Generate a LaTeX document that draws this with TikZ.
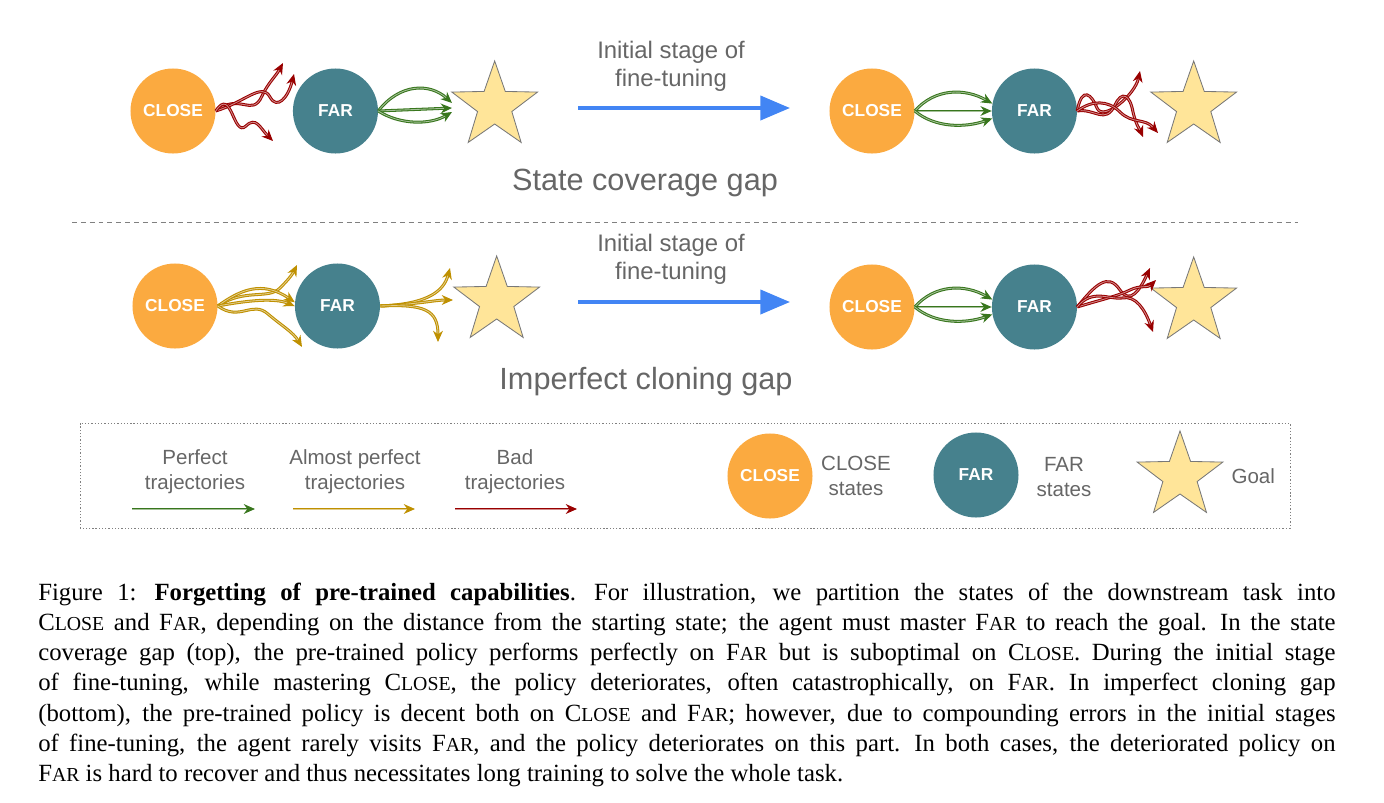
\documentclass[tikz,border=0pt]{standalone}
\usepackage{fontspec}
\setmainfont{Liberation Serif}
\setsansfont{Liberation Sans}
\newfontfamily\capsmall[Scale=0.8]{Liberation Serif}
\usetikzlibrary{arrows.meta,shapes.geometric,positioning}
\definecolor{closeorange}{RGB}{251,170,64}
\definecolor{farteal}{RGB}{70,129,141}
\definecolor{goalfill}{RGB}{255,229,153}
\definecolor{goaldraw}{RGB}{120,120,120}
\definecolor{labelgray}{RGB}{102,102,102}
\definecolor{stageblue}{RGB}{66,133,244}
\definecolor{goodgreen}{RGB}{56,118,29}
\definecolor{okgold}{RGB}{191,144,0}
\definecolor{badred}{RGB}{153,0,0}
\tikzstyle{closestate} = [circle, fill=closeorange, minimum size=2.125cm, inner sep=0pt, text=white, font=\sffamily\bfseries\fontsize{12.3}{14}\selectfont]
\tikzstyle{farstate} = [closestate, fill=farteal]
\tikzstyle{goal} = [star, star points=5, star point ratio=2.5, fill=goalfill, draw=goaldraw, line width=0.6pt, minimum size=2.25cm, inner sep=0pt]
\tikzstyle{perfect} = [draw=goodgreen, double=goodgreen!45!white, double distance=0.6pt, line width=0.75pt, -{Stealth[length=8pt,width=7pt]}]
\tikzstyle{almost} = [perfect, draw=okgold, double=okgold!45!white]
\tikzstyle{bad} = [perfect, draw=badred, double=badred!45!white]
\tikzstyle{stage} = [draw=stageblue, line width=2.8pt, -{Triangle[length=21pt,width=17pt]}]
\tikzstyle{stagetext} = [text=labelgray, font=\sffamily\fontsize{17}{20}\selectfont, align=center]
\tikzstyle{legendtext} = [text=labelgray, font=\sffamily\fontsize{14.6}{17.8}\selectfont, align=center]
\tikzstyle{gaptitle} = [text=labelgray, font=\sffamily\fontsize{21.8}{26}\selectfont]
\tikzstyle{captiontext} = [anchor=north west, inner sep=0pt, text width=32.425cm, align=justify, font=\fontsize{17.6}{21.4}\selectfont]
\newcommand{\closesc}{C{\capsmall LOSE}}
\newcommand{\farsc}{F{\capsmall AR}}

\begin{document}
\begin{tikzpicture}[x=0.025cm, y=-0.025cm, node distance=4.06cm, >=latex]
\useasboundingbox (0,0) rectangle (1384,803);

\node [closestate] (close1) at (173,111) {CLOSE};
\node [farstate, right of=close1] (far1) {FAR};
\node [goal, right of=far1, node distance=3.98cm, yshift=0.125cm] (goal1) {};

\coordinate (miss1a) at (283,63);
\coordinate (miss1b) at (294,74);
\coordinate (miss1c) at (273,141);
\draw [bad] (close1.east) .. controls (240,92) and (252,118) .. (262,96) .. controls (268,83) and (276,76) .. (miss1a);
\draw [bad] (close1.east) .. controls (245,102) and (262,82) .. (270,97) .. controls (277,110) and (288,98) .. (miss1b);
\draw [bad] (close1.east) .. controls (232,86) and (233,138) .. (246,126) .. controls (256,116) and (260,128) .. (miss1c);

\coordinate (hit1a) at (452,103);
\coordinate (hit1b) at (452,108);
\coordinate (hit1c) at (452,112);
\draw [perfect] (far1.east) .. controls (400,83) and (430,83) .. (hit1a);
\draw [perfect] (far1.east) -- (hit1b);
\draw [perfect] (far1.east) .. controls (400,125) and (430,125) .. (hit1c);

\coordinate (stage1a) at (578,108);
\coordinate (stage1b) at (790,108);
\draw [stage] (stage1a) -- (stage1b);
\node [stagetext] (stage1label) at (671,66) {Initial stage of\\fine-tuning};

\node [closestate] (close2) at (872,111) {CLOSE};
\node [farstate, right of=close2] (far2) {FAR};
\node [goal, right of=far2, node distance=3.98cm, yshift=0.125cm] (goal2) {};

\draw [perfect] (close2.east) .. controls (935,88) and (965,88) .. (far2.170);
\draw [perfect] (close2.east) -- (far2.west);
\draw [perfect] (close2.east) .. controls (935,128) and (965,128) .. (far2.190);

\coordinate (miss2a) at (1140,71);
\coordinate (miss2b) at (1143,137);
\coordinate (miss2c) at (1158,133);
\draw [bad] (far2.east) .. controls (1082,85) and (1092,95) .. (1097,108) .. controls (1103,122) and (1135,95) .. (miss2a);
\draw [bad] (far2.east) .. controls (1095,108) and (1105,125) .. (1115,105) .. controls (1122,90) and (1130,95) .. (1133,112) .. controls (1136,125) and (1140,130) .. (miss2b);
\draw [bad] (far2.east) .. controls (1092,100) and (1108,100) .. (1120,112) .. controls (1132,124) and (1145,118) .. (miss2c);

\node [gaptitle] (title1) at (645,183) {State coverage gap};

\coordinate (sepleft) at (72,222.5);
\coordinate (sepright) at (1298,222.5);
\draw [gray, line width=0.8pt, dash pattern=on 3.5pt off 2.8pt] (sepleft) -- (sepright);

\node [closestate] (close3) at (175,306) {CLOSE};
\node [farstate, right of=close3] (far3) {FAR};
\node [goal, right of=far3, node distance=3.98cm, yshift=0.125cm] (goal3) {};

\coordinate (drift3a) at (297,265);
\coordinate (drift3c) at (302,347);
\draw [almost] (close3.east) .. controls (245,288) and (268,300) .. (280,288) .. controls (288,280) and (292,275) .. (drift3a);
\draw [almost] (close3.east) .. controls (240,290) and (262,280) .. (far3.175);
\draw [almost] (close3.east) .. controls (250,300) and (275,298) .. (far3.west);
\draw [almost] (close3.east) .. controls (240,322) and (252,300) .. (268,314) .. controls (282,326) and (293,332) .. (drift3c);

\coordinate (slip3a) at (450,268);
\coordinate (slip3b) at (453,300);
\coordinate (slip3c) at (438,342);
\draw [almost] (far3.east) .. controls (430,304) and (444,290) .. (slip3a);
\draw [almost] (far3.east) .. controls (420,304) and (435,300) .. (slip3b);
\draw [almost] (far3.east) .. controls (425,304) and (438,310) .. (slip3c);

\coordinate (stage2a) at (578,302);
\coordinate (stage2b) at (790,302);
\draw [stage] (stage2a) -- (stage2b);
\node [stagetext] (stage2label) at (671,259) {Initial stage of\\fine-tuning};

\node [closestate] (close4) at (872,307) {CLOSE};
\node [farstate, right of=close4] (far4) {FAR};
\node [goal, right of=far4, node distance=3.98cm, yshift=0.125cm] (goal4) {};

\draw [perfect] (close4.east) .. controls (935,284) and (965,284) .. (far4.170);
\draw [perfect] (close4.east) -- (far4.west);
\draw [perfect] (close4.east) .. controls (935,324) and (965,324) .. (far4.190);

\coordinate (miss4a) at (1150,268);
\coordinate (miss4b) at (1156,280);
\coordinate (miss4c) at (1153,332);
\draw [bad] (far4.east) .. controls (1095,285) and (1108,272) .. (1120,290) .. controls (1130,305) and (1140,290) .. (miss4a);
\draw [bad] (far4.east) .. controls (1100,300) and (1118,296) .. (1130,290) .. controls (1140,285) and (1148,288) .. (miss4b);
\draw [bad] (far4.east) .. controls (1092,288) and (1110,300) .. (1122,298) .. controls (1136,295) and (1145,310) .. (miss4c);

\node [gaptitle] (title2) at (646,382) {Imperfect cloning gap};

\coordinate (keyupper) at (1290,423);
\coordinate (keylower) at (80,528);
\draw [gray, line width=0.7pt, dash pattern=on 0.9pt off 1.4pt] (keylower) rectangle (keyupper);

\node [legendtext] (perfectlabel) at (195,471.5) {Perfect\\trajectories};
\coordinate (perfectstart) at (132,509);
\coordinate (perfectend) at (255,509);
\draw [perfect] (perfectstart) -- (perfectend);

\node [legendtext] (almostlabel) at (355,471.5) {Almost perfect\\trajectories};
\coordinate (almoststart) at (293,509);
\coordinate (almostend) at (415,509);
\draw [almost] (almoststart) -- (almostend);

\node [legendtext] (badlabel) at (515,471.5) {Bad\\trajectories};
\coordinate (badstart) at (455,509);
\coordinate (badend) at (577,509);
\draw [bad] (badstart) -- (badend);

\node [closestate] (closekey) at (770,476) {CLOSE};
\node [legendtext, right of=closekey, node distance=2.15cm] (closekeylabel) {CLOSE\\states};
\node [farstate] (farkey) at (976,475) {FAR};
\node [legendtext, right of=farkey, node distance=2.2cm, yshift=-0.06cm] (farkeylabel) {FAR\\states};
\node [goal] (goalkey) at (1180,476) {};
\node [legendtext, right of=goalkey, node distance=1.83cm] (goalkeylabel) {Goal};

\node [captiontext] (caption) at (38,583) {\noindent\spaceskip=0.25em plus 0.4em minus 0.05em\xspaceskip=0.4em plus 0.4em minus 0.05em
Figure 1: \textbf{Forgetting of pre-trained capabilities}. For illustration, we partition the states of the downstream task into\linebreak
\closesc{} and \farsc, depending on the distance from the starting state; the agent must master \farsc{} to reach the goal. In the state\linebreak
coverage gap (top), the pre-trained policy performs perfectly on \farsc{} but is suboptimal on \closesc. During the initial stage\linebreak
of fine-tuning, while mastering \closesc, the policy deteriorates, often catastrophically, on \farsc. In imperfect cloning gap\linebreak
(bottom), the pre-trained policy is decent both on \closesc{} and \farsc; however, due to compounding errors in the initial stages\linebreak
of fine-tuning, the agent rarely visits \farsc, and the policy deteriorates on this part. In both cases, the deteriorated policy on\linebreak
\farsc{} is hard to recover and thus necessitates long training to solve the whole task.\par};
\end{tikzpicture}
\end{document}
